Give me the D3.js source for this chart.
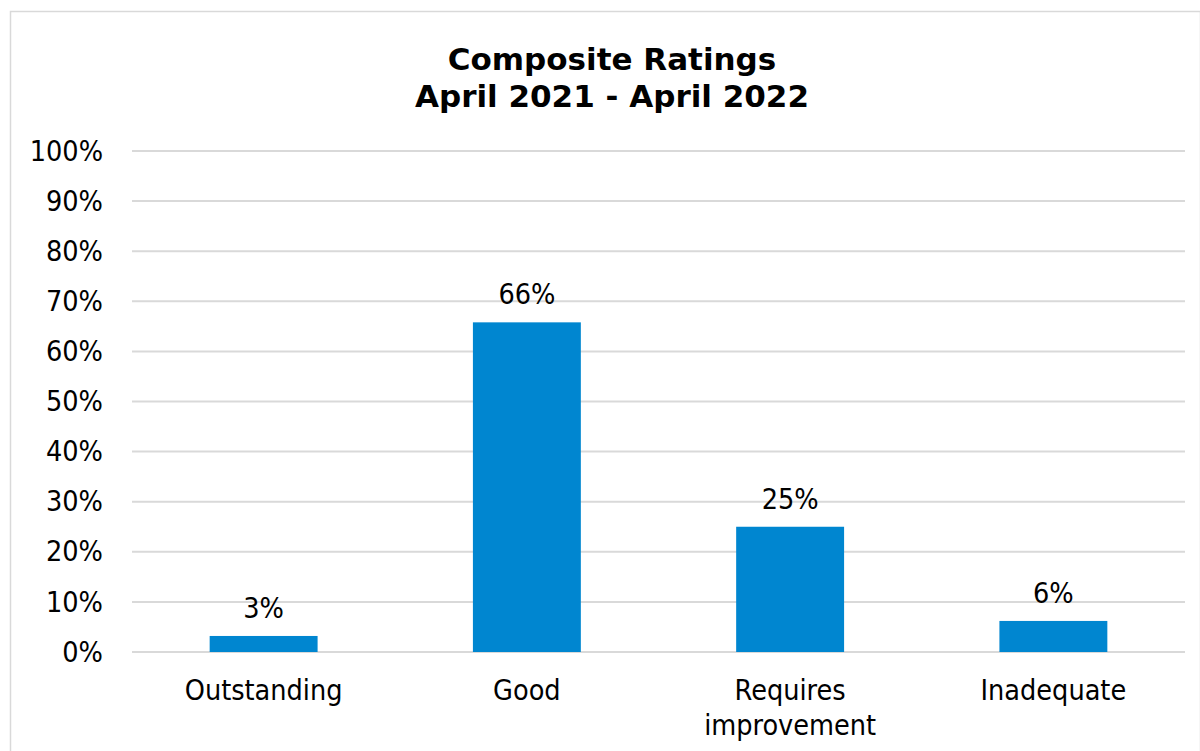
<!DOCTYPE html>
<html>
<head>
<meta charset="utf-8">
<script src="https://cdn.jsdelivr.net/npm/d3@7/dist/d3.min.js"></script>
<style>
  html, body { margin: 0; padding: 0; background: #fff; }
  svg { display: block; }
  text { font-family: "DejaVu Sans Condensed", "DejaVu Sans", sans-serif; font-stretch: condensed; fill: #000; }
  text.title { font-family: "DejaVu Sans", sans-serif; font-stretch: normal; }
</style>
</head>
<body>
<svg id="chart" width="1200" height="751"></svg>
<script>
// Composite ratings, share of inspections per grade
const categories = ["Outstanding", "Good", "Requires improvement", "Inadequate"];
const values = [0.032, 0.658, 0.25, 0.062];
const valueLabels = ["3%", "66%", "25%", "6%"];
const yTicks = [0, 0.1, 0.2, 0.3, 0.4, 0.5, 0.6, 0.7, 0.8, 0.9, 1.0];
const titleLines = ["Composite Ratings", "April 2021 - April 2022"];

const svg = d3.select("#chart");
const W = 1200, H = 751;
const margin = { top: 151, right: 15, bottom: 99, left: 132 };
const fontSize = 28.5;

// Chart frame
svg.append("rect")
  .attr("x", 10.5).attr("y", 11.5)
  .attr("width", W - 10).attr("height", H)
  .attr("fill", "#fff").attr("stroke", "#d9d9d9").attr("stroke-width", 1.5);

const x = d3.scaleBand()
  .domain(categories)
  .range([margin.left, W - margin.right])
  .paddingInner(0.59).paddingOuter(0.295);

const y = d3.scaleLinear()
  .domain([0, 1])
  .range([H - margin.bottom, margin.top]);

// Horizontal gridlines
svg.append("g")
  .selectAll("line")
  .data(yTicks)
  .join("line")
  .attr("x1", margin.left).attr("x2", W - margin.right)
  .attr("y1", d => y(d)).attr("y2", d => y(d))
  .attr("stroke", "#d9d9d9").attr("stroke-width", 2);

// Y axis labels
const yAxis = d3.axisLeft(y)
  .tickValues(yTicks)
  .tickFormat(d3.format(".0%"))
  .tickSize(0).tickPadding(29);
const yg = svg.append("g").attr("transform", `translate(${margin.left},0)`).call(yAxis);
yg.select(".domain").remove();
yg.selectAll("text")
  .attr("font-size", fontSize)
  .attr("fill", "#000")
  .style("font-family", '"DejaVu Sans Condensed", "DejaVu Sans", sans-serif');

// Bars
svg.append("g")
  .selectAll("rect")
  .data(categories)
  .join("rect")
  .attr("x", d => x(d))
  .attr("width", x.bandwidth())
  .attr("y", (d, i) => y(values[i]))
  .attr("height", (d, i) => y(0) - y(values[i]))
  .attr("fill", "#0086d0");

// Value labels
svg.append("g")
  .selectAll("text")
  .data(categories)
  .join("text")
  .attr("x", d => x(d) + x.bandwidth() / 2)
  .attr("y", (d, i) => y(values[i]) - 18)
  .attr("text-anchor", "middle")
  .attr("font-size", fontSize)
  .text((d, i) => valueLabels[i]);

// Category labels (wrapped to two lines where long)
const wrap = { "Requires improvement": ["Requires", "improvement"] };
const catG = svg.append("g");
categories.forEach(c => {
  const lines = wrap[c] || [c];
  const t = catG.append("text")
    .attr("x", x(c) + x.bandwidth() / 2)
    .attr("y", 700)
    .attr("text-anchor", "middle")
    .attr("font-size", fontSize);
  lines.forEach((ln, i) => {
    t.append("tspan")
      .attr("x", x(c) + x.bandwidth() / 2)
      .attr("dy", i === 0 ? 0 : 35)
      .text(ln);
  });
});

// Title
const title = svg.append("text")
  .attr("class", "title")
  .attr("x", 612)
  .attr("y", 70)
  .attr("text-anchor", "middle")
  .attr("font-size", 31)
  .attr("font-weight", "bold");
titleLines.forEach((ln, i) => {
  title.append("tspan")
    .attr("x", 612)
    .attr("dy", i === 0 ? 0 : 37)
    .text(ln);
});
</script>
</body>
</html>
